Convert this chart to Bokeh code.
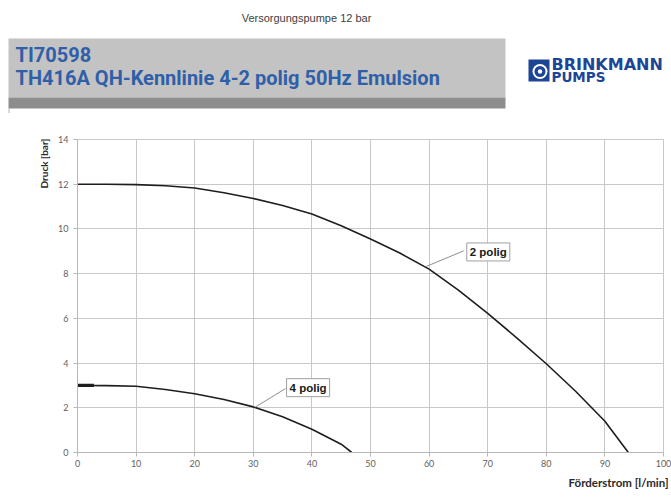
from bokeh.plotting import figure
from bokeh.models import Label, FixedTicker, Range1d, Title
from bokeh.layouts import column
from bokeh.embed import file_html
from bokeh.resources import INLINE

# ---------------- data ----------------
subtitle = "Versorgungspumpe 12 bar"
title_line1 = "TI70598"
title_line2 = "TH416A QH-Kennlinie 4-2 polig 50Hz Emulsion"
logo_line1 = "BRINKMANN"
logo_line2 = "PUMPS"
x_label = "Förderstrom [l/min]"
y_label = "Druck [bar]"
x_ticks = [0, 10, 20, 30, 40, 50, 60, 70, 80, 90, 100]
y_ticks = [0, 2, 4, 6, 8, 10, 12, 14]

name_2polig = "2 polig"
q_2polig = [0, 5, 10, 15, 20, 25, 30, 35, 40, 45, 50, 55, 60, 65, 70, 75, 80, 85, 90, 94]
h_2polig = [12.0, 12.0, 11.98, 11.93, 11.83, 11.62, 11.36, 11.05, 10.67, 10.14,
            9.55, 8.92, 8.2, 7.26, 6.22, 5.12, 3.97, 2.74, 1.4, 0.0]

name_4polig = "4 polig"
q_4polig = [0, 5, 10, 15, 20, 25, 30, 35, 40, 45, 46.8]
h_4polig = [3.0, 2.99, 2.96, 2.82, 2.63, 2.37, 2.04, 1.6, 1.04, 0.37, 0.0]
q_4polig_start = [0, 2.8]
h_4polig_start = [3.0, 3.0]

# ---------------- layout ----------------
W = 671
HEADER_H = 113
CHART_H = 384
BLUE_TITLE = "#2f5fa8"
BLUE_LOGO = "#1c4596"

header = figure(width=W, height=HEADER_H, x_range=Range1d(0, W), y_range=Range1d(HEADER_H, 0),
                output_backend="svg", toolbar_location=None, min_border=0)
header.axis.visible = False
header.grid.visible = False
header.outline_line_color = None
header.background_fill_color = "white"
header.frame_align = False

# banner
header.quad(left=8, right=505, top=38, bottom=97, fill_color="#c3c3c3", line_color=None)
header.quad(left=8, right=505, top=97, bottom=108, fill_color="#8d8d8d", line_color=None)
header.segment(x0=[8.5], y0=[108], x1=[8.5], y1=[113], line_color="#b5b5b5", line_width=1)

header.add_layout(Label(x=306, y=17, text=subtitle, text_align="center", text_baseline="middle",
                        text_font="Liberation Sans", text_font_size="11px", text_color="#404040"))
header.add_layout(Label(x=15, y=54, text=title_line1, text_align="left", text_baseline="middle",
                        text_font="Roboto", text_font_style="bold",
                        text_font_size="20px", text_color=BLUE_TITLE))
header.add_layout(Label(x=15, y=77, text=title_line2, text_align="left", text_baseline="middle",
                        text_font="Roboto", text_font_style="bold",
                        text_font_size="20px", text_color=BLUE_TITLE))

# logo
header.rect(x=538.5, y=70, width=21, height=22, fill_color=BLUE_LOGO, line_color=None)
header.circle(x=539.5, y=71, radius=7.5, fill_color="white", line_color=None)
header.circle(x=539.5, y=71, radius=5.5, fill_color=BLUE_LOGO, line_color=None)
header.circle(x=539.5, y=71, radius=2.2, fill_color="white", line_color=None)
header.add_layout(Label(x=551, y=64, text=logo_line1, text_align="left", text_baseline="middle",
                        text_font="DejaVu Sans", text_font_style="bold", text_font_size="16px",
                        text_color=BLUE_LOGO))
header.add_layout(Label(x=551, y=76, text=logo_line2, text_align="left", text_baseline="middle",
                        text_font="DejaVu Sans", text_font_style="bold", text_font_size="13.5px",
                        text_color=BLUE_LOGO))

# ---------------- chart ----------------
p = figure(width=W, height=CHART_H, x_range=Range1d(0, 100), y_range=Range1d(0, 14),
           output_backend="svg", toolbar_location=None,
           min_border_left=77, min_border_right=8, min_border_top=26, min_border_bottom=45)
p.frame_align = False
p.outline_line_color = "#c8c8c8"
p.background_fill_color = "white"

GRID = "#c8c8c8"
for ax, ticks in ((p.xaxis[0], x_ticks), (p.yaxis[0], y_ticks)):
    ax.ticker = FixedTicker(ticks=ticks)
    ax.major_label_text_font = "Lato"
    ax.major_label_text_font_size = "9px"
    ax.major_label_text_color = "#5f5f5f"
    ax.axis_line_color = "#b8b8b8"
    ax.major_tick_line_color = "#b8b8b8"
    ax.major_tick_out = 4
    ax.major_tick_in = 0
    ax.minor_tick_line_color = None
p.xaxis.major_label_standoff = 3
p.yaxis.major_label_standoff = 5
p.xgrid.ticker = FixedTicker(ticks=x_ticks)
p.ygrid.ticker = FixedTicker(ticks=y_ticks)
p.grid.grid_line_color = GRID
p.grid.grid_line_width = 1

LINE = "#1e1e1e"
p.line(q_2polig, h_2polig, line_color=LINE, line_width=1.6, line_join="round")
p.line(q_4polig, h_4polig, line_color=LINE, line_width=1.6, line_join="round")
p.line(q_4polig_start, h_4polig_start, line_color=LINE, line_width=3.2)

# callouts
i2 = q_2polig.index(60)
p.segment(x0=[q_2polig[i2] - 0.5], y0=[h_2polig[i2] + 0.12], x1=[65.9], y1=[9.02],
          line_color="#8f8f8f", line_width=1)
p.add_layout(Label(x=70.1, y=8.97, text=name_2polig, text_align="center", text_baseline="middle",
                   text_font="Liberation Sans", text_font_style="bold", text_font_size="11.5px",
                   text_color="#1a1a1a", background_fill_color="white",
                   border_line_color="#a0a0a0", border_line_width=1, padding=3))
i4 = q_4polig.index(30)
p.segment(x0=[q_4polig[i4] + 0.4], y0=[h_4polig[i4]], x1=[35.5], y1=[2.86],
          line_color="#8f8f8f", line_width=1)
p.add_layout(Label(x=39.35, y=2.9, text=name_4polig, text_align="center", text_baseline="middle",
                   text_font="Liberation Sans", text_font_style="bold", text_font_size="11.5px",
                   text_color="#1a1a1a", background_fill_color="white",
                   border_line_color="#a0a0a0", border_line_width=1, padding=3))

# axis titles
p.add_layout(Title(text=x_label, align="right", offset=-5, standoff=8,
                   text_font="Lato", text_font_style="bold", text_font_size="11.5px",
                   text_color="#2a2a2a"), "below")
p.add_layout(Title(text=y_label, align="right", offset=-1, standoff=11,
                   text_font="Lato", text_font_style="bold", text_font_size="10px",
                   text_color="#2a2a2a"), "left")

layout = column(header, p, spacing=0)
open("out.html", "w").write(file_html(layout, INLINE))
